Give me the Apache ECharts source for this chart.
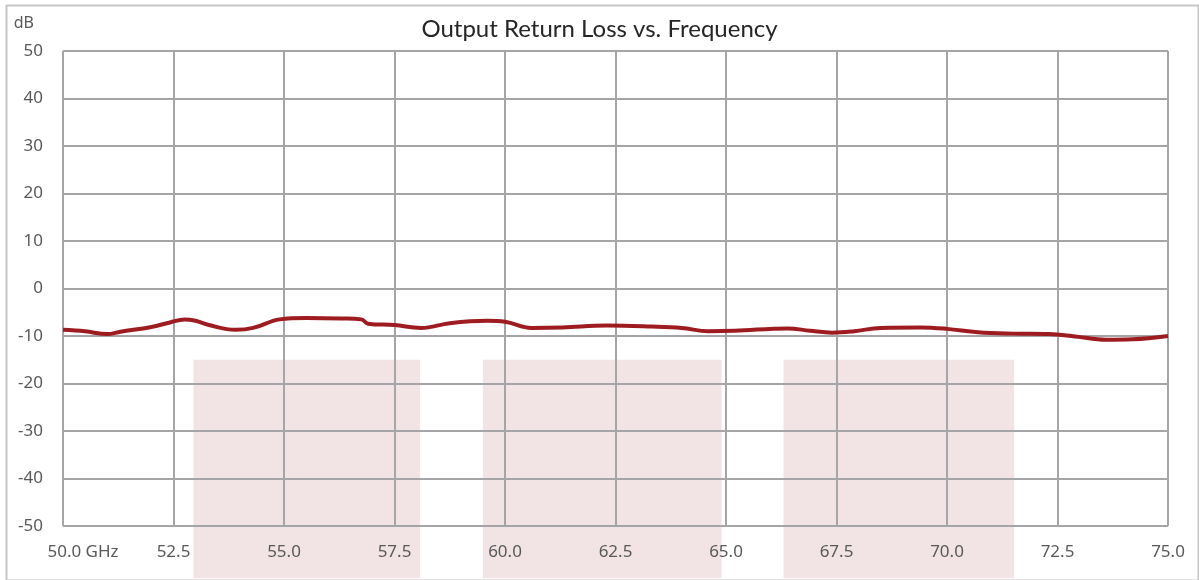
<!DOCTYPE html>
<html>
<head>
<meta charset="utf-8">
<script src="https://cdn.jsdelivr.net/npm/echarts@6/dist/echarts.min.js"></script>
<style>
  html, body { margin: 0; padding: 0; background: #fff; }
  #chart { width: 1199px; height: 580px; }
</style>
</head>
<body>
<div id="chart"></div>
<script>
// frequency (GHz) and return loss (dB)
const freqs = [50.0, 50.5, 51.0, 51.3, 52.0, 52.4, 52.75, 53.0, 53.3, 53.9, 54.3, 54.9,
  55.5, 56.3, 56.75, 56.9, 57.5, 58.1, 58.75, 59.6, 60.0, 60.6, 61.3, 62.3, 63.3, 64.0,
  64.6, 65.2, 66.4, 66.9, 67.4, 67.9, 68.5, 69.4, 70.0, 70.7, 71.5, 72.3, 72.9, 73.6,
  74.2, 75.0];
const returnLoss = [-8.7, -9.0, -9.6, -9.1, -8.1, -7.2, -6.5, -6.8, -7.7, -8.7, -8.3, -6.5,
  -6.2, -6.3, -6.5, -7.4, -7.7, -8.3, -7.3, -6.8, -7.0, -8.3, -8.2, -7.8, -8.0, -8.3,
  -9.0, -8.9, -8.4, -8.9, -9.3, -9.0, -8.3, -8.2, -8.5, -9.2, -9.5, -9.6, -10.1, -10.8,
  -10.7, -10.0];

// shaded bands: [startGHz, endGHz, topdB, bottomdB]
const bands = [
  [52.95, 58.08, -15, -61],
  [59.5, 64.9, -15, -61],
  [66.3, 71.52, -15, -61]
];

const chart = echarts.init(document.getElementById("chart"));

const labelColor = "#595959";
const gridColor = "#a5a5a8";
const labelFont = "Noto Sans";

chart.setOption({
  backgroundColor: "#fff",
  animation: false,
  title: {
    text: "Output Return Loss vs. Frequency",
    left: "center",
    top: 12,
    textStyle: {
      fontFamily: "Lato",
      fontWeight: "normal",
      fontSize: 24,
      color: "#262626"
    }
  },
  graphic: [
    {
      type: "rect",
      left: 4,
      top: 3,
      shape: { width: 1192, height: 575 },
      style: { fill: null, stroke: "#c6c6c6", lineWidth: 2 },
      silent: true
    }
  ],
  grid: {
    left: 63,
    right: 31,
    top: 51,
    bottom: 54
  },
  xAxis: {
    type: "value",
    min: 50,
    max: 75,
    interval: 2.5,
    axisLine: { show: false },
    axisTick: { show: false },
    splitLine: { show: true, lineStyle: { color: gridColor, width: 2 } },
    axisLabel: {
      margin: 18,
      color: labelColor,
      fontFamily: labelFont,
      fontSize: 17,
      formatter: function (v) {
        if (v === 50) return "{p|50.0} GHz";
        return v.toFixed(1);
      },
      rich: {
        p: { padding: [0, 0, 0, 40], fontSize: 17, fontFamily: labelFont, color: labelColor }
      }
    }
  },
  yAxis: {
    type: "value",
    min: -50,
    max: 50,
    interval: 10,
    name: "dB",
    nameLocation: "end",
    nameGap: 20,
    nameTextStyle: {
      color: labelColor,
      fontFamily: labelFont,
      fontSize: 16,
      align: "right",
      padding: [0, 29, 0, 0]
    },
    axisLine: { show: false },
    axisTick: { show: false },
    splitLine: { show: true, lineStyle: { color: gridColor, width: 2 } },
    axisLabel: {
      margin: 20,
      color: labelColor,
      fontFamily: labelFont,
      fontSize: 17
    }
  },
  series: [
    {
      type: "custom",
      z: -1,
      silent: true,
      clip: false,
      data: bands,
      renderItem: function (params, api) {
        const p0 = api.coord([api.value(0), api.value(2)]);
        const p1 = api.coord([api.value(1), api.value(3)]);
        return {
          type: "rect",
          shape: { x: p0[0], y: p0[1], width: p1[0] - p0[0], height: p1[1] - p0[1] },
          style: { fill: "#f2e4e5" }
        };
      }
    },
    {
      name: "Output Return Loss",
      type: "line",
      data: freqs.map((f, i) => [f, returnLoss[i]]),
      smooth: 0.4,
      showSymbol: false,
      lineStyle: { color: "#9e1b20", width: 4 },
      z: 3
    }
  ]
});
</script>
</body>
</html>
